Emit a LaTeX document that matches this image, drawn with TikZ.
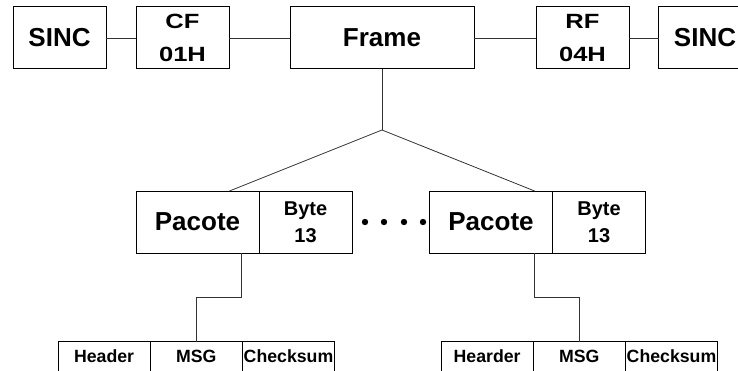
\documentclass[tikz,border=0pt]{standalone}
\usepackage{fontspec}
\setmainfont{Liberation Sans}
\newfontfamily\widesans[FakeStretch=1.24]{Liberation Sans}
\usetikzlibrary{positioning,calc}

\begin{document}
\begin{tikzpicture}[x=1pt,y=1pt,
    box/.style={draw, line width=0.5pt, inner sep=0pt, outer sep=0pt, minimum height=31pt,
                align=center, font=\bfseries\fontsize{13}{15}\selectfont},
    hexbox/.style={box, minimum width=46.5pt, font=\widesans\bfseries\fontsize{10.3}{16.5}\selectfont},
    bytebox/.style={box, minimum width=46.5pt, font=\bfseries\fontsize{10}{13.3}\selectfont},
    field/.style={draw, line width=0.5pt, inner sep=0pt, outer sep=0pt, minimum width=46.1pt,
                  minimum height=15pt, font=\bfseries\fontsize{8.85}{10}\selectfont},
    link/.style={line width=0.4pt, black!80}]
    \useasboundingbox (0,0) rectangle (369,185);

    % Frame row
    \node[box, minimum width=46.5pt] (s1) at (29.75,166) {SINC};
    \node[hexbox] (cf) at (91.25,166) {CF\\01H};
    \node[box, minimum width=92pt] (fr) at (191,166) {Frame};
    \node[hexbox] (rf) at (291.25,166) {RF\\04H};
    \node[box, minimum width=46.5pt] (s2) at (352.5,166) {SINC};
    \draw[link] (s1) -- (cf);
    \draw[link] (cf) -- (fr);
    \draw[link] (fr) -- (rf);
    \draw[link] (rf) -- (s2);

    % Packets
    \node[box, minimum width=61.5pt] (p1) at (98.75,74) {Pacote};
    \node[bytebox, right=0pt of p1] (b1) {Byte\\13};
    \node[box, minimum width=61.5pt] (p2) at (245.5,74) {Pacote};
    \node[bytebox, right=0pt of p2] (b2) {Byte\\13};
    \foreach \x in {182.5,192,202,211.5}
        \fill (\x,74) circle (1.6);

    % Frame split into packets
    \coordinate (jn) at ($(fr.south)+(0,-30.5)$);
    \draw[link] (fr.south) -- (jn);
    \draw[link] ($(p1.north west)!0.76!(p1.north east)$) -- (jn)
        -- ($(p2.north west)!0.855!(p2.north east)$);

    % Packet fields
    \node[field, anchor=west] (hd1) at (29,6.75) {Header};
    \node[field, right=0pt of hd1] (msg1) {MSG};
    \node[field, right=0pt of msg1] (ck1) {Checksum};
    \node[field, anchor=west] (hd2) at (220.5,6.75) {Hearder};
    \node[field, right=0pt of hd2] (msg2) {MSG};
    \node[field, right=0pt of msg2] (ck2) {Checksum};

    \coordinate (d1) at ($(p1.south west)!0.855!(p1.south east)$);
    \coordinate (d2) at ($(p2.south west)!0.855!(p2.south east)$);
    \draw[link] (d1) |- ($(d1)!0.5!(msg1.north)$) -| (msg1.north);
    \draw[link] (d2) |- ($(d2)!0.5!(msg2.north)$) -| (msg2.north);
\end{tikzpicture}
\end{document}
